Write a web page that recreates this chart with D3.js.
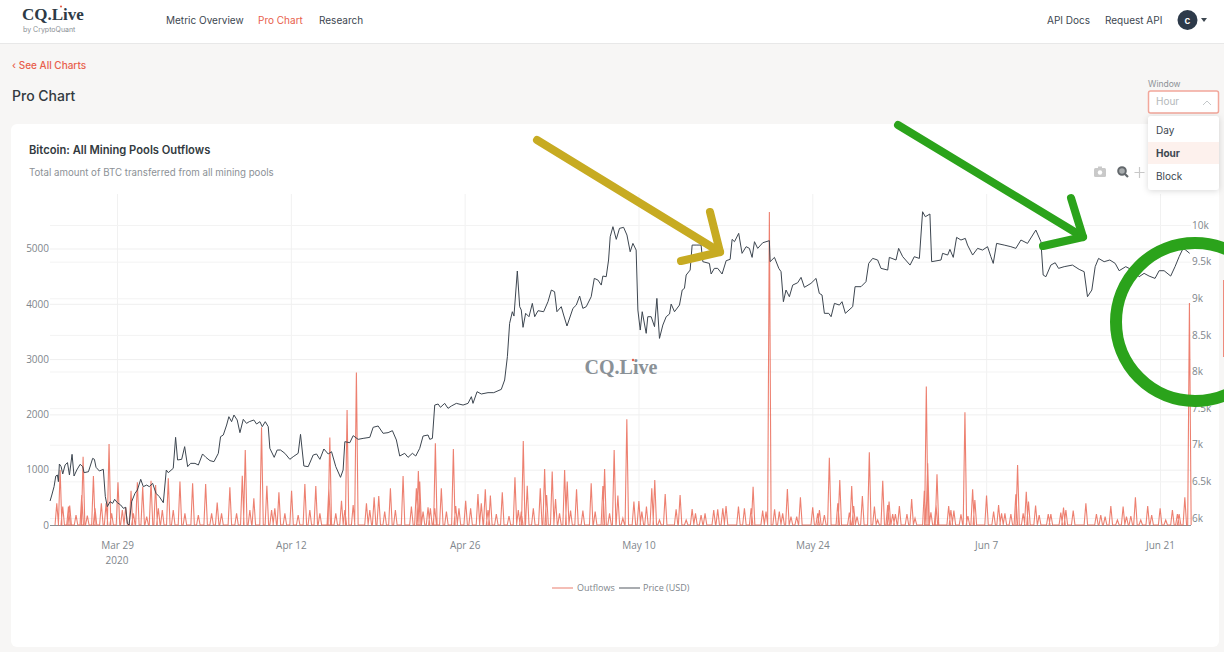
<!DOCTYPE html>
<html>
<head>
<meta charset="utf-8">
<title>Pro Chart</title>
<script src="https://cdn.jsdelivr.net/npm/d3@7"></script>
<style>
html, body { margin: 0; padding: 0; background: #f7f6f5; overflow: hidden; }
svg { display: block; font-family: Inter, "Open Sans", sans-serif; }
.tick text { font-family: "Open Sans", sans-serif; font-size: 10px; fill: #80868c; }
.domain { display: none; }
</style>
</head>
<body>
<svg width="1224" height="652"></svg>
<script>
// days since 23 Mar 2020 (UTC)
var priceDays = [0.61,0.75,0.93,1.07,1.2,1.28,1.36,1.5,1.63,1.82,2.01,2.17,2.38,2.54,2.76,3.03,3.24,3.35,3.7,4.04,4.18,4.31,4.58,4.9,5.06,5.22,5.44,5.65,5.81,6.03,6.3,6.51,6.7,6.83,6.97,7.18,7.45,7.64,7.91,8.12,8.39,8.6,8.87,9.14,9.41,9.73,9.97,10.13,10.53,10.72,10.88,11.21,11.45,11.69,11.93,12.28,12.55,12.89,13.16,13.49,13.81,14.16,14.34,14.56,14.83,15.01,15.23,15.42,15.68,15.9,16.17,16.43,16.65,17.02,17.24,17.51,17.7,17.94,18.18,18.31,18.66,18.9,19.17,19.52,19.92,20.19,20.59,20.78,21.05,21.4,21.8,22.07,22.34,22.66,23.01,23.28,23.62,24,24.21,24.35,24.75,25.02,25.42,25.82,26.36,26.63,27.03,27.43,27.83,28.18,28.5,28.77,29.17,29.44,29.79,30.06,30.38,30.65,31.05,31.19,31.4,31.59,31.86,32.05,32.39,32.66,32.93,33.33,33.87,34.27,34.54,34.67,35,35.34,35.88,36.34,36.95,37.22,37.44,37.62,37.84,37.97,38.24,38.43,38.56,38.7,38.91,39.18,39.45,39.64,39.91,40.36,40.71,40.98,41.24,41.43,41.78,41.97,42.24,42.72,42.99,43.26,43.52,43.79,44.19,44.44,44.73,45,45.13,45.4,45.59,45.72,45.94,46.21,46.47,46.8,47.07,47.33,47.55,47.81,47.95,48.14,48.3,48.62,48.75,49.02,49.29,49.48,49.69,49.96,50.23,50.5,50.63,50.9,51.3,51.52,51.7,51.84,52.16,52.32,52.64,53.04,53.18,53.71,53.85,54.11,54.38,54.73,55.06,55.38,55.54,55.73,56.07,56.34,56.67,56.93,57.15,57.34,57.6,58.01,58.54,58.6,58.95,59.3,59.48,59.67,59.88,60.15,60.42,60.82,61.09,61.36,61.89,62.3,62.56,62.78,62.97,63.32,63.51,63.78,64.18,64.39,64.66,65.25,65.44,65.92,66.32,66.54,66.86,67.26,67.53,68.07,68.2,68.74,68.95,69.28,69.87,70.21,70.62,70.88,71.1,71.47,71.61,72.36,72.49,72.9,73.08,73.35,73.62,73.97,74.32,74.5,74.91,75.31,75.71,76.11,76.38,76.57,76.84,77.45,77.99,78.39,78.8,79.33,80,80.41,80.59,80.81,81.21,81.56,81.83,82.28,82.95,83.49,83.89,84.16,84.51,84.78,85.05,85.5,85.96,86.39,86.71,87.24,87.78,88.32,88.72,89.12,89.6,89.93,90.33,90.86,91.21,91.54,91.86,92.07,92.39];
var priceValues = [6232,6314,6428,6573,6587,6496,6737,6701,6601,6724,6756,6587,6869,6573,6655,6733,6701,6619,6632,6814,6801,6692,6642,6664,6291,6155,6223,6200,6255,6209,6177,6132,6146,5927,5904,6223,6337,6382,6528,6428,6450,6428,6473,6337,6291,6209,6655,6619,6678,7101,6792,6801,6974,6701,6746,6746,6723,6874,6828,6783,6769,6883,7110,7133,7269,7383,7315,7406,7338,7165,7347,7292,7315,7338,7283,7315,7247,7315,7247,6951,6828,6928,6928,6883,6801,6837,6883,7142,6710,6701,6860,6874,6801,6942,6874,6905,6701,6555,6655,7042,7028,7124,7074,7087,7101,7238,7256,7156,7165,7192,7065,6846,6883,6828,6883,6846,6951,7119,7133,7074,7087,7542,7556,7511,7565,7497,7529,7565,7542,7565,7656,7565,7724,7693,7711,7711,7756,7884,8202,8657,8816,8757,9372,8885,8839,8603,8794,8748,8930,8748,8830,8816,8953,9112,9089,8816,8885,8771,8621,8862,8907,9030,8862,8885,9021,9271,9249,9180,9303,9294,9522,9840,9977,9804,9954,9968,9863,9635,9749,9658,8839,8566,8816,8521,8748,8748,8612,8998,8452,8634,8748,8785,8921,8816,8907,9112,9135,9317,9385,9726,9726,9726,9499,9476,9331,9408,9408,9331,9513,9531,9804,9772,9886,9613,9704,9681,9558,9772,9681,9758,9786,9499,9558,9408,9363,8953,9112,9021,9180,9212,9285,9149,9203,9271,9067,9044,8794,8794,8748,8930,8907,8953,8794,8885,9158,9158,9226,9476,9544,9522,9408,9385,9558,9522,9681,9567,9453,9567,9544,10181,10113,10150,9499,9522,9613,9590,9667,9558,9831,9795,9817,9726,9590,9681,9658,9704,9567,9476,9749,9726,9704,9681,9795,9749,9931,9772,9317,9294,9453,9485,9408,9431,9453,9394,9363,9021,9112,9431,9544,9499,9522,9476,9376,9431,9385,9294,9340,9303,9271,9376,9376,9303,9431,9567,9681,9658,9613];
var outflowDays = [1.15,1.42,1.63,2.09,2.19,2.7,3.16,3.27,3.61,4.1,4.23,4.74,5.12,5.36,5.57,6.08,6.43,6.7,7.13,7.32,7.64,8.07,8.39,8.74,9.11,9.33,9.65,10.13,10.53,11.07,11.47,12.09,12.55,13.14,13.62,14.07,14.42,15.09,15.63,16.09,16.33,16.7,17.02,17.64,18.07,18.45,18.71,19.04,19.52,20.06,20.59,21.13,21.53,22.01,22.34,23.06,23.14,23.62,24.08,24.35,24.53,25.02,25.28,26.09,26.36,26.71,27.08,27.56,28.02,28.42,29.04,29.71,30.11,30.27,30.38,30.65,31.05,31.24,31.59,31.64,32.12,32.53,33.09,33.28,33.54,34.08,34.48,35.07,35.34,35.66,35.88,36.07,36.55,37.03,37.57,38.05,38.32,38.56,38.72,39.04,39.53,40.09,40.44,40.6,41.05,41.32,41.64,42.05,42.26,42.53,43.01,43.52,44.19,44.51,45.13,45.27,45.67,46.04,46.34,46.74,47.06,47.63,48.03,48.27,48.64,49.07,49.31,49.69,50.15,51.03,51.35,51.84,52.32,52.59,53.04,53.36,54.06,54.38,54.79,55.05,56.05,56.53,57.07,57.23,58,58.27,58.54,58.96,59.34,59.61,59.99,60.28,60.74,61.04,62.03,62.43,62.57,62.97,63.37,64.05,64.21,64.98,65.17,65.33,65.6,66.03,66.59,67,67.26,67.67,68.07,68.18,68.47,68.69,69.01,69.62,70,70.27,71.02,71.18,71.29,71.55,71.96,72.04,72.98,73.16,73.4,73.97,74.29,74.53,74.91,75.09,76.03,76.6,77,77.24,77.51,77.99,78.39,78.53,78.98,79.23,79.41,79.98,80.27,81,81.21,82.01,82.23,82.42,83.01,84.03,84.88,85.23,85.58,86.04,86.57,87.03,87.3,87.65,88.02,88.45,89.01,89.33,90.01,90.46,91,91.4,91.54,92,92.37];
var outflowValues = [392,995,332,332,350,181,543,1236,169,886,302,392,392,1465,211,772,271,320,621,211,772,693,151,802,723,302,271,844,271,784,211,754,181,742,211,404,211,681,211,892,1357,271,482,1767,711,271,302,591,211,621,181,742,271,705,211,663,1580,211,440,271,2080,362,2756,392,271,500,525,241,663,271,886,332,663,977,784,241,320,302,302,1477,663,241,1375,344,302,440,302,561,392,645,271,531,199,591,163,862,271,241,1520,711,302,663,1013,543,965,470,211,995,784,259,645,259,754,241,705,1013,211,1357,531,121,1911,422,434,241,332,663,814,90,561,283,543,90,289,211,181,211,271,283,302,344,332,302,302,693,259,241,5660,283,241,211,651,151,151,500,320,211,271,181,1218,392,814,223,705,344,151,525,1315,332,90,802,362,422,199,199,344,199,470,121,621,2503,1116,229,362,917,344,271,259,193,2038,163,645,452,531,241,362,211,211,199,555,1085,211,603,422,350,181,199,199,223,314,271,259,392,199,181,151,344,90,332,151,163,500,90,344,181,301,90,271,199,199,500,4014];

var leftTicks = [0,1000,2000,3000,4000,5000];
var rightTicks = [6000,6500,7000,7500,8000,8500,9000,9500,10000];
var dateTicks = ["2020-03-29","2020-04-12","2020-04-26","2020-05-10","2020-05-24","2020-06-07","2020-06-21"];
var dateLabels = ["Mar 29","Apr 12","Apr 26","May 10","May 24","Jun 7","Jun 21"];
var navItems = ["Metric Overview","Pro Chart","Research"];
var windowItems = ["Day","Hour","Block"];

var red = "#e8604c", dark = "#3d4650", plotTop = 194, plotLeft = 50, plotRight = 1191;
var dayZero = Date.UTC(2020, 2, 23);
function toDate(d) { return new Date(dayZero + d * 864e5); }

var x = d3.scaleUtc().domain([new Date("2020-03-29"), new Date("2020-06-21")]).range([117, 1160]);
var yLeft = d3.scaleLinear().domain([0, 5000]).range([525, 248.5]);
var yRight = d3.scaleLinear().domain([6000, 10000]).range([518, 225]);

var svg = d3.select("svg");

function label(g, tx, ty, str, size, fill, weight, family) {
    return g.append("text").attr("x", tx).attr("y", ty).text(str)
        .attr("font-size", size).attr("fill", fill)
        .attr("font-weight", weight || 400)
        .attr("font-family", family || null);
}

// page header
svg.append("rect").attr("width", 1224).attr("height", 43).attr("fill", "#fff");
svg.append("line").attr("x1", 0).attr("x2", 1224).attr("y1", 43.5).attr("y2", 43.5).attr("stroke", "#e8e8e8");
label(svg, 22, 20, "CQ.Live", 17, "#2d3a46", 700, "Liberation Serif");
svg.append("circle").attr("cx", 61).attr("cy", 6.5).attr("r", 1.1).attr("fill", red);
label(svg, 23, 32, "by CryptoQuant", 7, "#8a8f95");
[166, 258, 319].forEach(function (px, i) {
    label(svg, px, 24, navItems[i], 10, i == 1 ? red : "#3c4650");
});
label(svg, 1047, 24, "API Docs", 10, "#3c4650");
label(svg, 1105, 24, "Request API", 10, "#3c4650");
svg.append("circle").attr("cx", 1187.5).attr("cy", 20).attr("r", 10).attr("fill", "#2d3a4a");
label(svg, 1187.5, 23.5, "c", 10, "#fff", 600).attr("text-anchor", "middle");
svg.append("path").attr("d", "M1201 18h6l-3 4z").attr("fill", "#3c4650");

label(svg, 12, 69, "‹ See All Charts", 10, red, 500);
label(svg, 12, 101, "Pro Chart", 14, "#333a40", 500);

// chart card
svg.append("rect").attr("x", 11).attr("y", 124).attr("width", 1208).attr("height", 523).attr("rx", 6).attr("fill", "#fff");
label(svg, 29, 154, "Bitcoin: All Mining Pools Outflows", 11.2, "#333a40", 600);
label(svg, 29, 176, "Total amount of BTC transferred from all mining pools", 9.7, "#8c9196");
svg.append("line").attr("x1", 1223.5).attr("x2", 1223.5).attr("y1", 280).attr("y2", 357).attr("stroke", "#ee8a7c");

// grids and axes
var gridV = svg.append("g").attr("transform", "translate(0,525)")
    .call(d3.axisBottom(x).tickValues(dateTicks.map(function (d) { return new Date(d); }))
        .tickSize(0).tickPadding(17)
        .tickFormat(function (d, i) { return dateLabels[i]; }));
gridV.selectAll(".tick").append("line").attr("y1", 0).attr("y2", plotTop - 525).attr("stroke", "#f1f1f1");
label(svg, 117, 564, "2020", 10, "#80868c").attr("text-anchor", "middle").attr("font-family", "Open Sans");

var axisR = svg.append("g").attr("transform", "translate(" + plotRight + ",0)")
    .call(d3.axisRight(yRight).tickValues(rightTicks).tickSize(0).tickPadding(1)
        .tickFormat(function (d) { return d / 1000 + "k"; }));
axisR.selectAll(".tick").append("line").attr("x1", 0).attr("x2", plotLeft - plotRight).attr("stroke", "#f3f3f3");

var axisL = svg.append("g").attr("transform", "translate(" + plotLeft + ",0)")
    .call(d3.axisLeft(yLeft).tickValues(leftTicks).tickSize(0).tickPadding(1).tickFormat(d3.format("d")));
axisL.selectAll(".tick").append("line").attr("x1", 0).attr("x2", plotRight - plotLeft)
    .attr("stroke", function (d) { return d == 0 ? "#8b8f93" : "#efefef"; });

// watermark
label(svg, 621, 374, "CQ.Live", 20, "#8a9197", 700, "Liberation Serif").attr("text-anchor", "middle");
svg.append("circle").attr("cx", 633).attr("cy", 360).attr("r", 1.2).attr("fill", red);

// outflows: each reading rises from and falls back to the zero line
var halfWidth = 0.14;
var outflowPoints = [];
outflowDays.forEach(function (d, i) {
    outflowPoints.push([d - halfWidth, 0], [d, outflowValues[i]], [d + halfWidth, 0]);
});
var outflowLine = d3.line()
    .x(function (p) { return x(toDate(p[0])); })
    .y(function (p) { return yLeft(p[1]); });
svg.append("path").attr("d", outflowLine(outflowPoints)).attr("fill", "none")
    .attr("stroke", red).attr("stroke-width", 1.1).attr("stroke-opacity", 0.8);

var priceLine = d3.line()
    .x(function (d) { return x(toDate(d)); })
    .y(function (d, i) { return yRight(priceValues[i]); });
svg.append("path").attr("d", priceLine(priceDays)).attr("fill", "none")
    .attr("stroke", dark).attr("stroke-width", 1);

// legend
svg.append("line").attr("x1", 552).attr("x2", 573).attr("y1", 588).attr("y2", 588).attr("stroke", "#f0a89e").attr("stroke-width", 1.5);
label(svg, 577, 591, "Outflows", 9, "#80868c").attr("font-family", "Open Sans");
svg.append("line").attr("x1", 619).attr("x2", 640).attr("y1", 588).attr("y2", 588).attr("stroke", "#8d9196").attr("stroke-width", 1.5);
label(svg, 643, 591, "Price (USD)", 9, "#80868c").attr("font-family", "Open Sans");

// modebar icons
var icons = svg.append("g");
icons.append("rect").attr("x", 1094).attr("y", 168).attr("width", 12).attr("height", 9).attr("rx", 1.5).attr("fill", "#c9c9c9");
icons.append("rect").attr("x", 1098).attr("y", 166.5).attr("width", 4).attr("height", 2).attr("fill", "#c9c9c9");
icons.append("circle").attr("cx", 1100).attr("cy", 172.5).attr("r", 2.2).attr("fill", "#fff");
icons.append("circle").attr("cx", 1122).attr("cy", 171).attr("r", 3.8).attr("fill", "#a8acae").attr("stroke", "#63686c").attr("stroke-width", 2);
icons.append("line").attr("x1", 1125).attr("y1", 174).attr("x2", 1128).attr("y2", 177).attr("stroke", "#63686c").attr("stroke-width", 2.2);
icons.append("path").attr("d", "M1139.5 167v11M1134.5 172.5h10").attr("stroke", "#c8c8c8").attr("stroke-width", 1.2);

// window dropdown
label(svg, 1148, 87, "Window", 8.5, "#8c9196");
svg.append("rect").attr("x", 1148.5).attr("y", 91).attr("width", 70).attr("height", 22).attr("rx", 2)
    .attr("fill", "#fff").attr("stroke", "#f2a79b").attr("stroke-width", 1.5);
label(svg, 1156, 105, "Hour", 10, "#b4b8bb");
svg.append("path").attr("d", "M1203 105l4-4 4 4").attr("fill", "none").attr("stroke", "#c4c8ca");
svg.append("rect").attr("x", 1148).attr("y", 116).attr("width", 71).attr("height", 74).attr("rx", 3)
    .attr("fill", "#fff").style("filter", "drop-shadow(0 1px 3px rgba(0,0,0,.15))");
svg.append("rect").attr("x", 1148).attr("y", 142).attr("width", 71).attr("height", 22).attr("fill", "#fdf1ed");
windowItems.forEach(function (t, i) {
    label(svg, 1156, 134 + i * 23, t, 10, "#3c4650", t == "Hour" ? 700 : 400);
});

// hand drawn annotations
var gold = svg.append("g").attr("fill", "none").attr("stroke", "#c7ab22").attr("stroke-width", 8).attr("stroke-linecap", "round").attr("stroke-linejoin", "round");
gold.append("path").attr("d", "M537 140L720 252");
gold.append("path").attr("d", "M710 212L720 252L681 261");
var green = svg.append("g").attr("fill", "none").attr("stroke", "#2ba31b").attr("stroke-width", 8).attr("stroke-linecap", "round").attr("stroke-linejoin", "round");
green.append("path").attr("d", "M898 125L1083 237");
green.append("path").attr("d", "M1071 198L1083 237L1043 246");
green.append("circle").attr("cx", 1195).attr("cy", 322).attr("r", 79).attr("stroke-width", 12);
</script>
</body>
</html>
